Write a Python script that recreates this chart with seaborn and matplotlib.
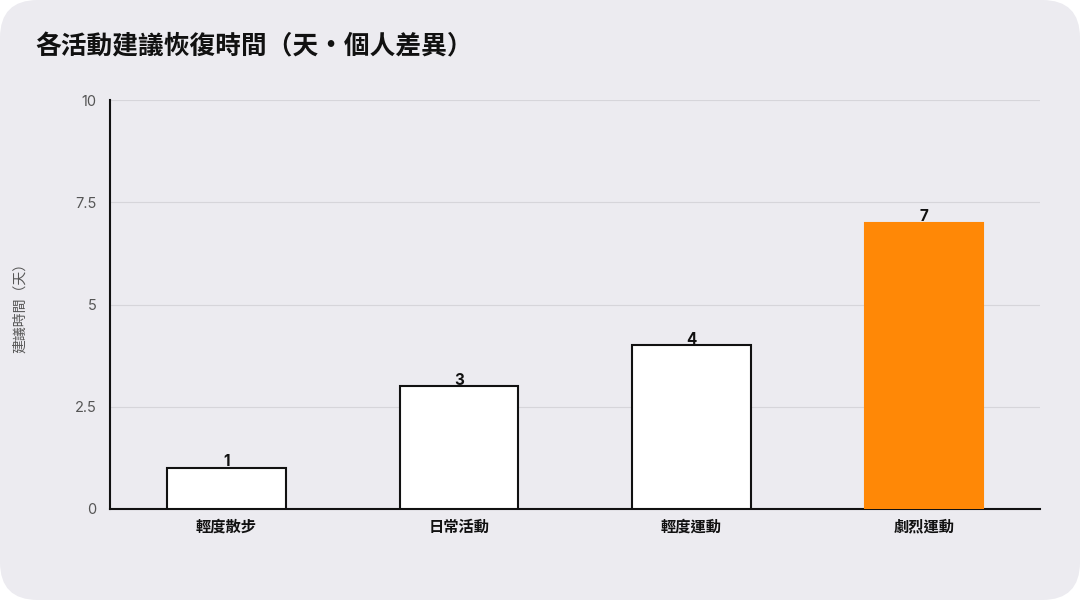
import matplotlib
matplotlib.use('Agg')
import matplotlib.pyplot as plt
import seaborn as sns
from matplotlib.patches import FancyBboxPatch

activities = ['輕度散步', '日常活動', '輕度運動', '劇烈運動']
recovery_days = [1, 3, 4, 7]
bar_colors = ['#ffffff', '#ffffff', '#ffffff', '#ff8806']
edge_colors = ['#111111', '#111111', '#111111', '#ff8806']
y_ticks = [0, 2.5, 5, 7.5, 10]
y_tick_labels = ['0', '2.5', '5', '7.5', '10']

sns.set_theme(style='white')
plt.rcParams['font.family'] = ['Noto Sans CJK TC', 'DejaVu Sans']

bg = '#ecebf0'
fig = plt.figure(figsize=(10.8, 6), dpi=100, facecolor='white')
fig.patches.append(FancyBboxPatch((0.0, 0.0), 1.0, 1.0, boxstyle='round,pad=0,rounding_size=0.035',
                                  transform=fig.transFigure, facecolor=bg, edgecolor='none',
                                  mutation_aspect=1.8, zorder=-10))
ax = fig.add_axes([0.1019, 0.1517, 0.8611, 0.6816])
ax.set_facecolor(bg)

sns.barplot(x=activities, y=recovery_days, hue=activities, palette=bar_colors,
            saturation=1, width=0.51, legend=False, ax=ax, zorder=3)
for patch, ec in zip(ax.patches, edge_colors):
    patch.set_edgecolor(ec)
    patch.set_linewidth(1.5)

for i, v in enumerate(recovery_days):
    ax.text(i, v - 0.03, str(v), ha='center', va='bottom', fontsize=11, fontweight='bold',
            color='#111111', zorder=4, family=['Inter', 'DejaVu Sans'])

ax.set_xlim(-0.5, 3.5)
ax.set_ylim(0, 10)
ax.set_yticks(y_ticks)
ax.set_yticklabels(y_tick_labels, fontsize=10.5, color='#555555', family=['Inter', 'DejaVu Sans'])
ax.tick_params(axis='x', labelsize=11, labelcolor='#111111', length=0, pad=7)
for lbl in ax.get_xticklabels():
    lbl.set_fontweight('bold')
ax.tick_params(axis='y', length=0, pad=10)
ax.yaxis.grid(True, color='#d6d5da', linewidth=0.8, zorder=0)
ax.set_axisbelow(True)

for s in ['top', 'right']:
    ax.spines[s].set_visible(False)
ax.spines['left'].set_color('#111111')
ax.spines['bottom'].set_color('#111111')
ax.spines['left'].set_linewidth(1.5)
ax.spines['bottom'].set_linewidth(1.5)

ax.set_ylabel('建議時間（天）', fontsize=10, color='#555555', labelpad=34)
ax.set_xlabel('')

fig.text(0.033, 0.922, '各活動建議恢復時間（天·個人差異）', fontsize=18.5, fontweight='bold',
         color='#111111', ha='left', va='center')

plt.savefig('out.png', dpi=100, facecolor='white')
plt.close()
